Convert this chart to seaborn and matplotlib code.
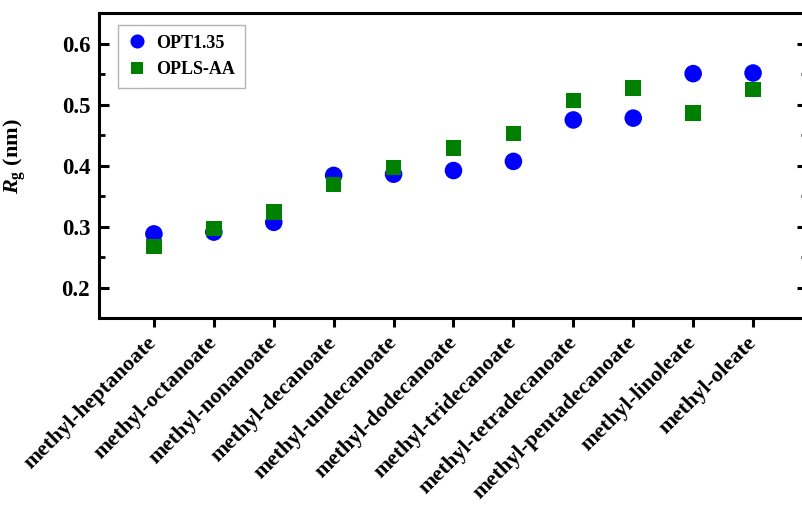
import matplotlib
matplotlib.use("Agg")
import matplotlib.pyplot as plt
import seaborn as sns
import pandas as pd
from matplotlib.ticker import MultipleLocator

compounds = ["methyl-heptanoate", "methyl-octanoate", "methyl-nonanoate",
             "methyl-decanoate", "methyl-undecanoate", "methyl-dodecanoate",
             "methyl-tridecanoate", "methyl-tetradecanoate",
             "methyl-pentadecanoate", "methyl-linoleate", "methyl-oleate"]
opt135 = [0.288, 0.291, 0.307, 0.384, 0.386, 0.392, 0.407, 0.475, 0.478, 0.551, 0.552]
oplsaa = [0.267, 0.297, 0.324, 0.369, 0.397, 0.429, 0.453, 0.507, 0.527, 0.486, 0.525]

df_opt = pd.DataFrame({"compound": compounds, "Rg": opt135, "model": "OPT1.35"})
df_opls = pd.DataFrame({"compound": compounds, "Rg": oplsaa, "model": "OPLS-AA"})

sns.set_style("ticks")
plt.rcParams["font.family"] = ["Liberation Serif", "DejaVu Serif"]
plt.rcParams["font.weight"] = "bold"
plt.rcParams["mathtext.fontset"] = "custom"
plt.rcParams["mathtext.rm"] = "Liberation Serif:bold"
plt.rcParams["mathtext.it"] = "Liberation Serif:italic:bold"
plt.rcParams["mathtext.bf"] = "Liberation Serif:bold"
for k in ["text.color", "axes.labelcolor", "xtick.color", "ytick.color", "axes.edgecolor"]:
    plt.rcParams[k] = "black"

fig = plt.figure(figsize=(8.02, 5.08), dpi=100)
ax = fig.add_axes([98.5 / 802, 1 - 318 / 508, (807 - 98.5) / 802, (318 - 13.3) / 508])

sns.scatterplot(data=df_opt, x="compound", y="Rg", hue="model", palette={"OPT1.35": "#0000ff"},
                marker="o", s=160, edgecolor="#0000ff", linewidth=0, ax=ax, zorder=3)
sns.scatterplot(data=df_opls, x="compound", y="Rg", hue="model", palette={"OPLS-AA": "#008000"},
                marker="s", s=125, edgecolor="#008000", linewidth=0, ax=ax, zorder=3)

ax.set_xlim(-0.925, 10.9)
ax.set_ylim(0.15, 0.65)
ax.yaxis.set_minor_locator(MultipleLocator(0.05))
ax.set_yticks([0.2, 0.3, 0.4, 0.5, 0.6])
ax.set_yticklabels(["0.2", "0.3", "0.4", "0.5", "0.6"])

for s in ax.spines.values():
    s.set_linewidth(2.2)
    s.set_visible(True)
    s.set_color("black")

ax.tick_params(axis="y", which="major", direction="in", length=7, width=2.2,
               left=True, right=True, labelsize=16.5, pad=6, colors="black")
ax.tick_params(axis="y", which="minor", direction="in", length=4.3, width=2.0,
               left=True, right=True, colors="black")
ax.tick_params(axis="x", which="major", direction="out", length=6.5, width=2.2,
               bottom=True, top=False, labelsize=16, pad=9, colors="black")

for lab in ax.get_xticklabels():
    lab.set_rotation(45)
    lab.set_ha("right")
    lab.set_va("center")
    lab.set_rotation_mode("anchor")
    lab.set_fontweight("bold")
for lab in ax.get_yticklabels():
    lab.set_fontweight("bold")

ax.set_xlabel("")
ax.set_ylabel(r"$\mathit{R}_{\mathrm{g}}$ (nm)", fontsize=16, fontweight="bold")
ax.yaxis.set_label_coords(-0.100, 0.53)

leg = ax.legend(loc="upper left", bbox_to_anchor=(0.027, 0.962), borderaxespad=0,
                frameon=True, fancybox=False, edgecolor="#a0a0a0", fontsize=13,
                markerscale=0.8, handlelength=1.0, handletextpad=0.6,
                labelspacing=0.5, borderpad=0.55)
leg.get_frame().set_linewidth(1.0)
for t in leg.get_texts():
    t.set_fontweight("bold")

fig.savefig("out.png", dpi=100)
